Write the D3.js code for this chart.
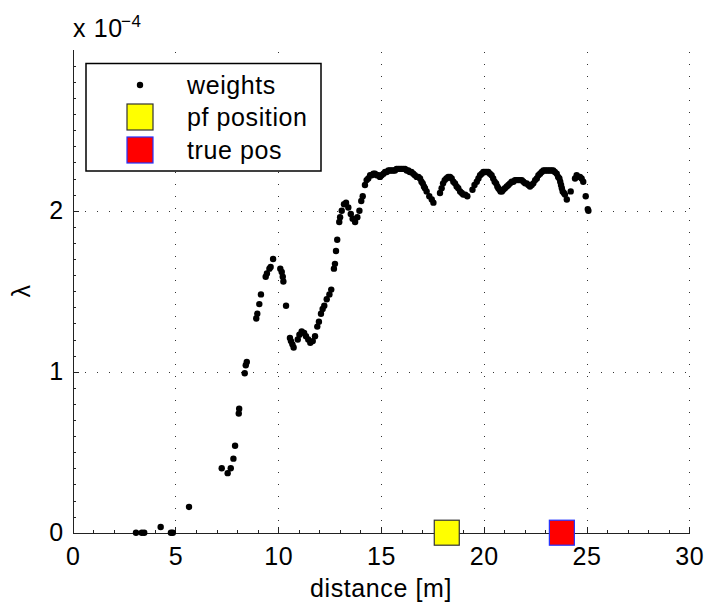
<!DOCTYPE html>
<meta charset="utf-8">
<style>
body { margin: 0; background: #fff; }
svg text { font-family: "Liberation Sans", Arial, Helvetica, sans-serif; fill: #000; letter-spacing: 0.6px; }
.axis path, .axis line { stroke: #222; shape-rendering: crispEdges; }
.axis text { font-size: 25px; }
.grid line { stroke: #333; stroke-dasharray: 1, 11; shape-rendering: crispEdges; }
.grid path { stroke-width: 0; }
</style>
<body>
<script src="https://d3js.org/d3.v7.min.js"></script>
<script>

// particle weights: distance [m] and lambda (in units of 1e-4)
const distance = [
  3.08, 3.36, 3.48, 4.28, 4.78, 4.87, 5.66, 7.25, 7.54, 7.69, 7.82, 7.90, 8.08, 8.10, 8.37, 8.42, 8.47,
  8.93, 8.98, 9.08, 9.16, 9.39, 9.45, 9.57, 9.63, 9.75, 10.10, 10.17, 10.22, 10.25, 10.38,
  10.57, 10.62, 10.69, 10.75, 10.95, 11.03, 11.14, 11.26, 11.35, 11.46, 11.56, 11.68, 11.79, 11.90,
  11.98, 12.08, 12.16, 12.24, 12.36, 12.49, 12.58, 12.71, 12.76, 12.81, 12.87, 12.97, 13.01, 13.09,
  13.20, 13.30, 13.41, 13.53, 13.62, 13.74, 13.85, 13.95, 14.04, 14.11,
  14.22, 14.30, 14.38, 14.47, 14.55, 14.63, 14.71, 14.79, 14.87, 14.95, 15.03, 15.12, 15.20, 15.28,
  15.36, 15.44, 15.52, 15.60, 15.68, 15.76, 15.84, 15.92, 16.00, 16.08, 16.17, 16.25, 16.33, 16.40,
  16.48, 16.57, 16.65, 16.74, 16.82, 16.90, 16.97, 17.03, 17.09, 17.14, 17.22, 17.35, 17.47, 17.55,
  17.87, 17.95, 18.02, 18.10, 18.18, 18.27, 18.36, 18.44, 18.52, 18.60, 18.68, 18.76, 18.85, 18.93,
  19.00, 19.10, 19.20,
  19.45, 19.55, 19.66, 19.74, 19.82, 19.90, 19.98, 20.06, 20.14, 20.22, 20.30, 20.38, 20.46, 20.53,
  20.60, 20.66, 20.71, 20.77, 20.82, 20.88, 20.95, 21.03, 21.12, 21.20, 21.28, 21.36, 21.44, 21.52,
  21.60, 21.68, 21.76, 21.85, 21.93, 22.01, 22.09, 22.17, 22.25, 22.33, 22.41, 22.50, 22.58, 22.66,
  22.74, 22.82, 22.90, 22.98, 23.06, 23.14, 23.22, 23.30, 23.38, 23.46, 23.55, 23.62, 23.68, 23.72,
  23.76, 23.80, 23.84, 23.90, 23.95, 24.04, 24.23, 24.44, 24.52, 24.60, 24.68, 24.76, 24.84, 24.96,
  25.06, 25.09
];
const lambda = [
  0.00, 0.00, 0.00, 0.035, 0.00, 0.00, 0.16, 0.40, 0.37, 0.40, 0.46, 0.54, 0.74, 0.77, 0.99, 1.04, 1.06,
  1.33, 1.36, 1.42, 1.48, 1.59, 1.61, 1.64, 1.65, 1.70, 1.64, 1.62, 1.59, 1.56, 1.41,
  1.21, 1.19, 1.17, 1.15, 1.20, 1.23, 1.25, 1.24, 1.22, 1.20, 1.18, 1.19, 1.22, 1.28,
  1.31, 1.36, 1.39, 1.41, 1.45, 1.48, 1.51, 1.64, 1.67, 1.75, 1.82, 1.93, 1.96, 2.00,
  2.04, 2.05, 2.02, 1.98, 1.95, 1.93, 1.96, 2.00, 2.06, 2.09,
  2.16, 2.19, 2.20, 2.22, 2.22, 2.23, 2.23, 2.22, 2.22, 2.21, 2.22, 2.23, 2.24, 2.24,
  2.25, 2.25, 2.25, 2.25, 2.25, 2.26, 2.26, 2.26, 2.26, 2.26, 2.26, 2.25, 2.25, 2.24,
  2.24, 2.23, 2.22, 2.21, 2.21, 2.20, 2.18, 2.17, 2.15, 2.14, 2.12, 2.09, 2.07, 2.05,
  2.11, 2.14, 2.17, 2.19, 2.20, 2.21, 2.21, 2.20, 2.18, 2.17, 2.15, 2.14, 2.12, 2.11,
  2.10, 2.10, 2.09,
  2.13, 2.16, 2.18, 2.20, 2.22, 2.23, 2.24, 2.24, 2.24, 2.24, 2.23, 2.22, 2.20, 2.18,
  2.17, 2.15, 2.14, 2.13, 2.12, 2.12, 2.13, 2.14, 2.15, 2.16, 2.17, 2.18, 2.18, 2.19,
  2.19, 2.19, 2.19, 2.19, 2.18, 2.17, 2.17, 2.16, 2.15, 2.16, 2.17, 2.19, 2.20, 2.22,
  2.23, 2.24, 2.25, 2.25, 2.25, 2.25, 2.25, 2.25, 2.25, 2.24, 2.23, 2.21, 2.20, 2.18,
  2.16, 2.14, 2.12, 2.11, 2.10, 2.07, 2.12, 2.20, 2.22, 2.21, 2.21, 2.20, 2.18, 2.09,
  2.01, 2.00
];

// estimated and true positions, drawn on the x axis
const pfPosition = 18.2;
const truePosition = 23.8;

const xTicks = [0, 5, 10, 15, 20, 25, 30];
const yTicks = [0, 1, 2];
const legendLabels = ["weights", "pf position", "true pos"];

var width = 705, height = 604;
var margin = {top: 49.7, right: 15.7, bottom: 71.3, left: 72.7};

var svg = d3.select("body").append("svg")
    .attr("width", width)
    .attr("height", height);

var x = d3.scaleLinear().domain([0, 30]).range([margin.left, width - margin.right]);
var y = d3.scaleLinear().domain([0, 3]).range([height - margin.bottom, margin.top]);

var y0 = y(0), x0 = x(0);

// dotted grid
svg.append("g")
    .attr("class", "grid")
    .attr("transform", "translate(0," + y0 + ")")
    .call(d3.axisBottom(x).tickValues(xTicks.slice(1)).tickSize(-(y0 - margin.top)).tickFormat(""));

svg.append("g")
    .attr("class", "grid")
    .attr("transform", "translate(" + x0 + ",0)")
    .call(d3.axisLeft(y).tickValues(yTicks.slice(1)).tickSize(-(x(30) - x0)).tickFormat(""));

// minor ticks
svg.append("g")
    .attr("class", "axis")
    .attr("transform", "translate(0," + y0 + ")")
    .call(d3.axisBottom(x).tickValues(d3.range(0, 31, 1)).tickSize(-3).tickSizeOuter(0).tickFormat(""));

svg.append("g")
    .attr("class", "axis")
    .attr("transform", "translate(" + x0 + ",0)")
    .call(d3.axisLeft(y).tickValues(d3.range(0, 30, 1).map(d => d / 10)).tickSize(-3).tickSizeOuter(0).tickFormat(""));

// main axes
svg.append("g")
    .attr("class", "axis")
    .attr("transform", "translate(0," + y0 + ")")
    .call(d3.axisBottom(x).tickValues(xTicks).tickSize(-6).tickSizeOuter(0).tickPadding(15));

svg.append("g")
    .attr("class", "axis")
    .attr("transform", "translate(" + x0 + ",0)")
    .call(d3.axisLeft(y).tickValues(yTicks).tickFormat(d3.format("d")).tickSize(-6).tickSizeOuter(0).tickPadding(9));

// weights
svg.append("g")
  .selectAll("circle")
  .data(d3.zip(distance, lambda))
  .join("circle")
    .attr("cx", d => x(d[0]))
    .attr("cy", d => y(d[1]))
    .attr("r", 3.2)
    .style("fill", "#000");

// position markers
var sq = 25;
svg.append("rect")
    .attr("x", x(pfPosition) - sq / 2).attr("y", y(0) - sq / 2)
    .attr("width", sq).attr("height", sq)
    .style("fill", "#ffff00").style("stroke", "#333").style("stroke-width", 1.2);

svg.append("rect")
    .attr("x", x(truePosition) - sq / 2).attr("y", y(0) - sq / 2)
    .attr("width", sq).attr("height", sq)
    .style("fill", "#ff0000").style("stroke", "#2233ff").style("stroke-width", 1.2);

// labels
svg.append("text")
    .attr("x", x(15)).attr("y", 597)
    .attr("text-anchor", "middle")
    .style("font-size", "25px")
    .text("distance [m]");

svg.append("text")
    .attr("transform", "translate(30,291) rotate(-90)")
    .attr("text-anchor", "middle")
    .style("font-size", "25px")
    .text("λ");

svg.append("text")
    .attr("x", 73).attr("y", 37)
    .style("font-size", "25px")
    .text("x 10");

svg.append("text")
    .attr("x", 121).attr("y", 27)
    .style("font-size", "17px")
    .text("−4");

// legend
var legend = svg.append("g");
legend.append("rect")
    .attr("x", 86).attr("y", 63.5)
    .attr("width", 235).attr("height", 107.5)
    .style("fill", "#fff").style("stroke", "#000").style("stroke-width", 1.5);

legend.append("circle")
    .attr("cx", 140).attr("cy", 85).attr("r", 3.2)
    .style("fill", "#000");

legend.append("rect")
    .attr("x", 127).attr("y", 104).attr("width", 26).attr("height", 26)
    .style("fill", "#ffff00").style("stroke", "#333").style("stroke-width", 1.2);

legend.append("rect")
    .attr("x", 127).attr("y", 137).attr("width", 26).attr("height", 26)
    .style("fill", "#ff0000").style("stroke", "#2233ff").style("stroke-width", 1.2);

legend.selectAll("text.entry")
  .data(legendLabels)
  .join("text")
    .attr("class", "entry")
    .attr("x", 187)
    .attr("y", (d, i) => 85 + i * 32.5)
    .attr("dy", "0.35em")
    .style("font-size", "25px")
    .text(d => d);

</script>
</body>
